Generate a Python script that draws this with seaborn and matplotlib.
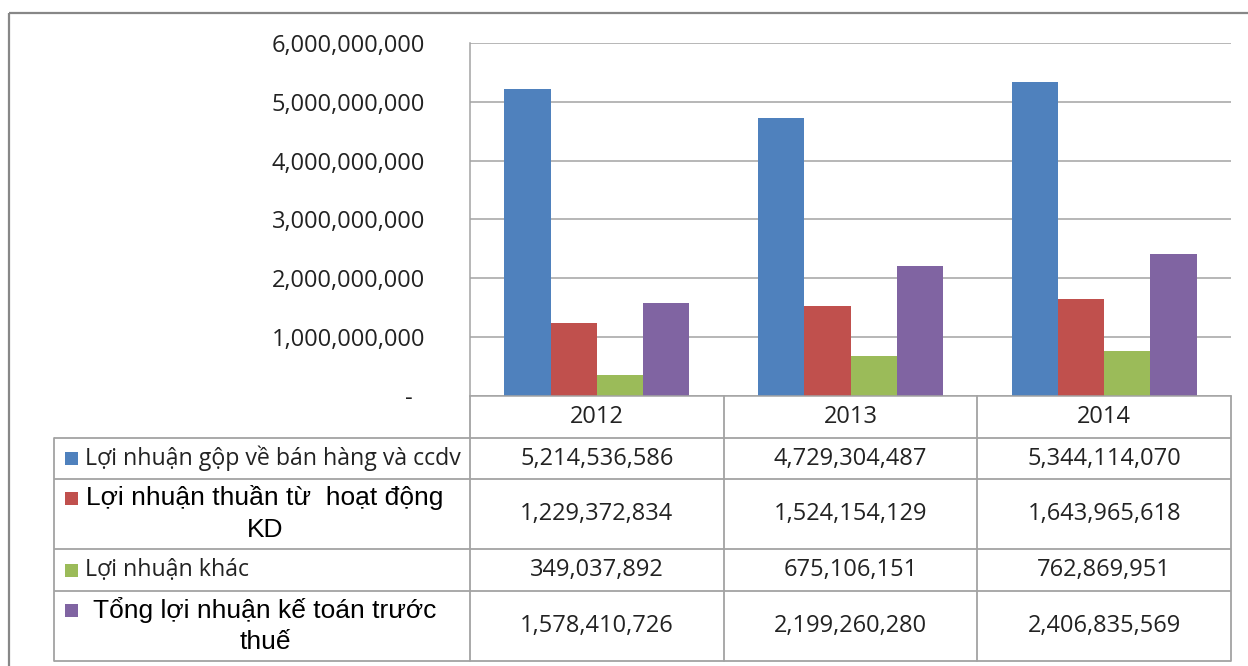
import matplotlib
matplotlib.use("Agg")
import matplotlib.pyplot as plt
from matplotlib.patches import Rectangle
from matplotlib.ticker import FuncFormatter
import seaborn as sns
import pandas as pd

# ---- data -------------------------------------------------------------
years = ["2012", "2013", "2014"]
series = [
    "Lợi nhuận gộp về bán hàng và ccdv",
    "Lợi nhuận thuần từ  hoạt động KD",
    "Lợi nhuận khác",
    "Tổng lợi nhuận kế toán trước thuế",
]
gross_profit = [5214536586, 4729304487, 5344114070]
operating_profit = [1229372834, 1524154129, 1643965618]
other_profit = [349037892, 675106151, 762869951]
pretax_profit = [1578410726, 2199260280, 2406835569]
y_ticks = [0, 1e9, 2e9, 3e9, 4e9, 5e9, 6e9]

# how each series name is wrapped inside the data-table label column
label_lines = [
    ["Lợi nhuận gộp về bán hàng và ccdv"],
    ["Lợi nhuận thuần từ  hoạt động", "KD"],
    ["Lợi nhuận khác"],
    ["Tổng lợi nhuận kế toán trước", "thuế"],
]
label_fonts = ["Open Sans", "Liberation Sans", "Open Sans", "Liberation Sans"]
label_sizes = [16.7, 19, 16.7, 19]
colors = ["#4F81BD", "#C0504D", "#9BBB59", "#8064A2"]

values = [gross_profit, operating_profit, other_profit, pretax_profit]
df = pd.DataFrame(
    [(y, s, v) for s, vals in zip(series, values) for y, v in zip(years, vals)],
    columns=["Năm", "Chỉ tiêu", "Giá trị"],
)

# ---- figure geometry (pixels) ----------------------------------------
W, H = 1248, 666
x_left, x_right = 470, 1231
y_zero, y_top = 395.7, 43
table_left = 54
row_edges = [438, 479, 549, 591, 661]
grid_col = "#a3a3a3"
text_col = "#222222"

sns.set_theme(style="white")
plt.rcParams["font.family"] = ["Open Sans", "DejaVu Sans"]

fig = plt.figure(figsize=(W / 100, H / 100), dpi=100)
ax = fig.add_axes([x_left / W, (H - y_zero) / H,
                   (x_right - x_left) / W, (y_zero - y_top) / H])

sns.barplot(data=df, x="Năm", y="Giá trị", hue="Chỉ tiêu", order=years,
            hue_order=series, palette=colors, saturation=1, width=0.729,
            linewidth=0, ax=ax, legend=False)

ax.set_xlim(-0.5, 2.5)
ax.set_ylim(0, 6e9)
ax.set_yticks(y_ticks)
ax.yaxis.set_major_formatter(
    FuncFormatter(lambda v, _: "-  " if v == 0 else f"{v:,.0f}"))
ax.tick_params(axis="y", length=7.2, width=1.1, color=grid_col, pad=25,
               labelsize=17, labelcolor=text_col)
ax.tick_params(axis="x", length=0, labelbottom=False)
ax.set_xlabel("")
ax.set_ylabel("")
ax.yaxis.grid(True, color=grid_col, lw=1.1)
ax.set_axisbelow(True)
for side in ("top", "right"):
    ax.spines[side].set_visible(False)
for side in ("left", "bottom"):
    ax.spines[side].set_color(grid_col)
    ax.spines[side].set_linewidth(1.1)

# ---- data table below the plot -----------------------------------------
ov = fig.add_axes([0, 0, 1, 1])
ov.set_xlim(0, W)
ov.set_ylim(H, 0)
ov.axis("off")

col_edges = [x_left + i * (x_right - x_left) / len(years) for i in range(len(years) + 1)]
col_centers = [(a + b) / 2 for a, b in zip(col_edges[:-1], col_edges[1:])]
row_centers = [(a + b) / 2 for a, b in zip(row_edges[:-1], row_edges[1:])]

for y in row_edges:
    ov.plot([table_left, x_right], [y, y], color=grid_col, lw=1.3,
            solid_capstyle="butt")
ov.plot([table_left, table_left], [row_edges[0], row_edges[-1]], color=grid_col, lw=1.3)
for x in col_edges:
    ov.plot([x, x], [y_zero, row_edges[-1]], color=grid_col, lw=1.3)

for x, yr in zip(col_centers, years):
    ov.text(x, (y_zero + row_edges[0]) / 2, yr, ha="center", va="center",
            fontsize=17, color=text_col)

for yc, vals in zip(row_centers, values):
    for x, v in zip(col_centers, vals):
        ov.text(x, yc, f"{v:,}", ha="center", va="center",
                fontsize=17, color=text_col)

line_gap = 32
for yc, lines, fam, fs, col in zip(row_centers, label_lines, label_fonts,
                                   label_sizes, colors):
    n = len(lines)
    top = yc - (n - 1) * line_gap / 2
    ov.add_patch(Rectangle((65, top - 6.5), 13, 13, color=col, lw=0))
    if n == 1:
        ov.text(85, yc, lines[0], ha="left", va="center", fontsize=fs,
                family=fam, color=text_col)
    else:
        for i, ln in enumerate(lines):
            ov.text(265, top + i * line_gap, ln, ha="center", va="center",
                    fontsize=fs, family=fam, color="black")

# outer chart-area frame
ov.plot([9, 9], [13, H], color="#878787", lw=1.6, solid_capstyle="butt")
ov.plot([9, W], [13, 13], color="#878787", lw=1.6, solid_capstyle="butt")

fig.savefig("out.png", dpi=100)
